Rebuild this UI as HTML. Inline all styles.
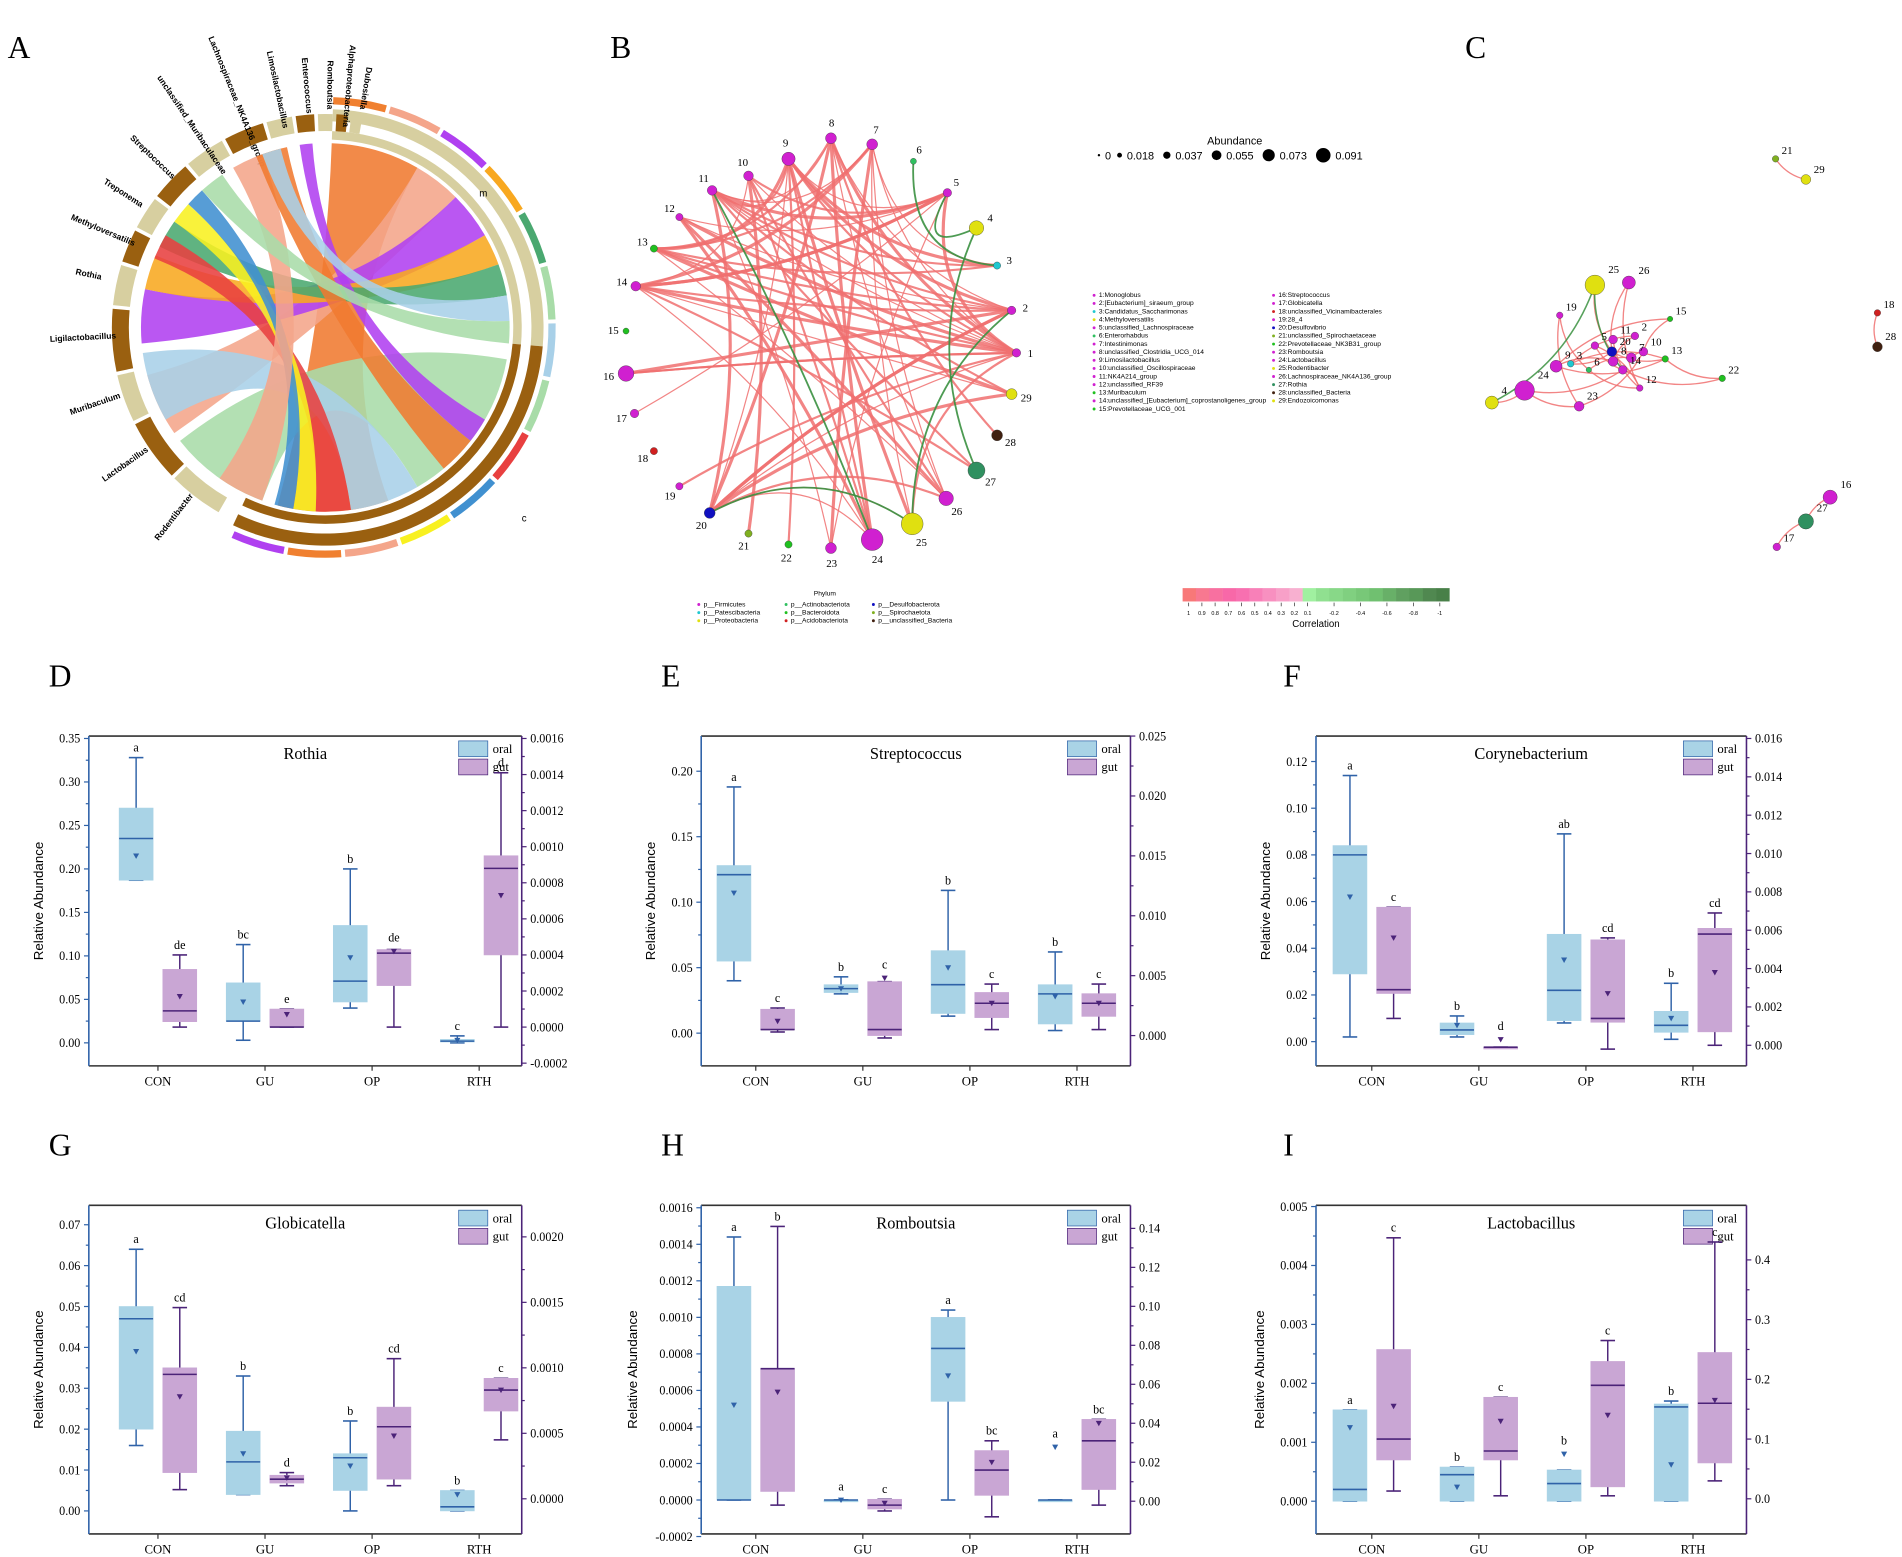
<!DOCTYPE html>
<html><head><meta charset="utf-8">
<style>
html,body{margin:0;padding:0;background:#fff;}
svg{display:block;}
text{font-family:"Liberation Serif",serif;}
.sans{font-family:"Liberation Sans",sans-serif;}
</style></head>
<body>
<svg id="fig" width="1902" height="1557" viewBox="0 0 1568 1284" xmlns="http://www.w3.org/2000/svg">
<rect width="1568" height="1284" fill="#fff"/>
<g id="letters" font-size="26">
<text x="6" y="48">A</text>
<text x="503" y="48">B</text>
<text x="1208" y="48">C</text>
<text x="40" y="566">D</text>
<text x="545" y="566">E</text>
<text x="1058" y="566">F</text>
<text x="40" y="953">G</text>
<text x="545" y="953">H</text>
<text x="1058" y="953">I</text>
</g>
<g id="chordA"></g>
<g id="netB"></g>
<g id="netC"></g>
<g id="boxes"></g>
</svg>
<script>
var NS="http://www.w3.org/2000/svg";
function mk(parent,tag,attrs,txt){var e=document.createElementNS(NS,tag);for(var k in attrs)e.setAttribute(k,attrs[k]);if(txt!==undefined)e.textContent=txt;parent.appendChild(e);return e;}

/* ---------------- Box plot data ---------------- */
var categories=["CON","GU","OP","RTH"];
/* each entry: [min,q1,median,q3,max,mean] */
var rothiaOral=[[0.187,0.187,0.235,0.27,0.328,0.215],[0.003,0.025,0.025,0.069,0.113,0.047],[0.04,0.047,0.071,0.135,0.2,0.098],[0,0.001,0.002,0.004,0.008,0.003]];
var rothiaGut=[[0,0.00003,0.00009,0.00032,0.0004,0.00017],[0,0,0,0.0001,0.0001,0.00007],[0,0.00023,0.00041,0.00043,0.00043,0.00042],[0,0.0004,0.00088,0.00095,0.00141,0.00073]];
var strepOral=[[0.04,0.055,0.121,0.128,0.188,0.107],[0.03,0.031,0.034,0.037,0.043,0.034],[0.013,0.015,0.037,0.063,0.109,0.05],[0.002,0.007,0.03,0.037,0.062,0.028]];
var strepGut=[[0.0003,0.0005,0.0005,0.0022,0.0023,0.0012],[-0.0002,0,0.0005,0.0045,0.0045,0.0048],[0.0005,0.0015,0.0027,0.0036,0.0043,0.0027],[0.0005,0.0016,0.0027,0.0035,0.0043,0.0027]];
var coryOral=[[0.002,0.029,0.08,0.084,0.114,0.062],[0.002,0.003,0.005,0.008,0.011,0.007],[0.008,0.009,0.022,0.046,0.089,0.035],[0.001,0.004,0.007,0.013,0.025,0.01]];
var coryGut=[[0.0014,0.0027,0.0029,0.0072,0.0072,0.0056],[-0.0001,-0.0001,-0.0001,-0.0001,-0.0001,0.0003],[-0.0002,0.0012,0.0014,0.0055,0.0056,0.0027],[0,0.0007,0.0058,0.0061,0.0069,0.0038]];
var globiOral=[[0.016,0.02,0.047,0.05,0.064,0.039],[0.004,0.004,0.012,0.0195,0.033,0.014],[0,0.005,0.013,0.014,0.022,0.011],[0,0,0.001,0.005,0.005,0.004]];
var globiGut=[[0.00007,0.0002,0.00095,0.001,0.00146,0.00078],[0.0001,0.00012,0.00015,0.00018,0.0002,0.00016],[0.0001,0.00015,0.00055,0.0007,0.00107,0.00048],[0.00045,0.00067,0.00083,0.00092,0.00092,0.00083]];
var rombOral=[[0,0,0,0.00117,0.00144,0.00052],[0,0,0,0,0,0],[0,0.00054,0.00083,0.001,0.00104,0.00068],[0,0,0,0,0,0.00029]];
var rombGut=[[-0.002,0.005,0.068,0.068,0.141,0.056],[-0.005,-0.004,-0.002,0.001,0.001,-0.001],[-0.008,0.003,0.016,0.026,0.031,0.02],[-0.002,0.006,0.031,0.042,0.042,0.04]];
var lactoOral=[[0,0,0.0002,0.00155,0.00155,0.00125],[0,0,0.00045,0.00058,0.00058,0.00024],[0,0,0.0003,0.00053,0.00053,0.0008],[0,0,0.0016,0.00165,0.0017,0.00062]];
var lactoGut=[[0.013,0.065,0.1,0.25,0.437,0.155],[0.005,0.065,0.08,0.17,0.17,0.13],[0.005,0.02,0.19,0.23,0.265,0.14],[0.03,0.06,0.16,0.245,0.43,0.165]];
var lettersD=[["a","bc","b","c"],["de","e","de","d"]];
var lettersE=[["a","b","b","b"],["c","c","c","c"]];
var lettersF=[["a","b","ab","b"],["c","d","cd","cd"]];
var lettersG=[["a","b","b","b"],["cd","d","cd","c"]];
var lettersH=[["a","a","a","a"],["b","c","bc","bc"]];
var lettersI=[["a","b","b","b"],["c","c","c","c"]];
var ticksLeftD=[0,0.05,0.1,0.15,0.2,0.25,0.3,0.35], ticksRightD=[-0.0002,0,0.0002,0.0004,0.0006,0.0008,0.001,0.0012,0.0014,0.0016];
var ticksLeftE=[0,0.05,0.1,0.15,0.2], ticksRightE=[0,0.005,0.01,0.015,0.02,0.025];
var ticksLeftF=[0,0.02,0.04,0.06,0.08,0.1,0.12], ticksRightF=[0,0.002,0.004,0.006,0.008,0.01,0.012,0.014,0.016];
var ticksLeftG=[0,0.01,0.02,0.03,0.04,0.05,0.06,0.07], ticksRightG=[0,0.0005,0.001,0.0015,0.002];
var ticksLeftH=[-0.0002,0,0.0002,0.0004,0.0006,0.0008,0.001,0.0012,0.0014,0.0016], ticksRightH=[0,0.02,0.04,0.06,0.08,0.1,0.12,0.14];
var ticksLeftI=[0,0.001,0.002,0.003,0.004,0.005], ticksRightI=[0,0.1,0.2,0.3,0.4];

var panels=[
 {name:"rothia",title:"Rothia",oral:rothiaOral,gut:rothiaGut,let:lettersD,tl:ticksLeftD,tr:ticksRightD,dl:2,dr:4,
  x0:73,x1:430,y0:607,y1:879,cat0:130,L:[0,860,0.35,609],R:[0,847,0.0016,609]},
 {name:"streptococcus",title:"Streptococcus",oral:strepOral,gut:strepGut,let:lettersE,tl:ticksLeftE,tr:ticksRightE,dl:2,dr:3,
  x0:578,x1:932,y0:607,y1:879,cat0:623,L:[0,852,0.2,636],R:[0,854,0.025,607]},
 {name:"corynebacterium",title:"Corynebacterium",oral:coryOral,gut:coryGut,let:lettersF,tl:ticksLeftF,tr:ticksRightF,dl:2,dr:3,
  x0:1085,x1:1440,y0:607,y1:879,cat0:1131,L:[0,859,0.12,628],R:[0,862,0.016,609]},
 {name:"globicatella",title:"Globicatella",oral:globiOral,gut:globiGut,let:lettersG,tl:ticksLeftG,tr:ticksRightG,dl:2,dr:4,
  x0:73,x1:430,y0:994,y1:1265,cat0:130,L:[0,1246,0.07,1010],R:[0,1236,0.002,1020]},
 {name:"romboutsia",title:"Romboutsia",oral:rombOral,gut:rombGut,let:lettersH,tl:ticksLeftH,tr:ticksRightH,dl:4,dr:2,
  x0:578,x1:932,y0:994,y1:1265,cat0:623,L:[0,1237,0.0016,996],R:[0,1238,0.14,1013]},
 {name:"lactobacillus",title:"Lactobacillus",oral:lactoOral,gut:lactoGut,let:lettersI,tl:ticksLeftI,tr:ticksRightI,dl:3,dr:1,
  x0:1085,x1:1440,y0:994,y1:1265,cat0:1131,L:[0,1238,0.005,995],R:[0,1236,0.4,1039]}
];
var OC="#2f62a8",GC="#4b2378",OF="#a9d3e6",GF="#c9a6d4";
var bx=document.getElementById("boxes");
panels.forEach(function(p){
  var g=mk(bx,"g",{});
  
  
  function yl(v){return p.L[1]+(v-p.L[0])*(p.L[3]-p.L[1])/(p.L[2]-p.L[0]);}
  function yr(v){return p.R[1]+(v-p.R[0])*(p.R[3]-p.R[1])/(p.R[2]-p.R[0]);}
  var step=88.3;
  function xc(i){return p.cat0+i*step;}
  var f=mk(g,"line",{x1:p.x0,y1:p.y0,x2:p.x1,y2:p.y0,stroke:"#333","stroke-width":1.3});
  
  var fb=mk(g,"line",{x1:p.x0,y1:p.y1,x2:p.x1,y2:p.y1,stroke:"#333","stroke-width":1.3});
  
  var la=mk(g,"line",{x1:p.x0,y1:p.y0,x2:p.x0,y2:p.y1,stroke:OC,"stroke-width":1.3});
  
  var ra=mk(g,"line",{x1:p.x1,y1:p.y0,x2:p.x1,y2:p.y1,stroke:GC,"stroke-width":1.3});
  
  var maxLen=0;
  p.tl.forEach(function(v){var y=yl(v);mk(g,"line",{x1:p.x0-4,y1:y,x2:p.x0,y2:y,stroke:OC});
    var s=v.toFixed(p.dl);if(s.length>maxLen)maxLen=s.length;
    var t=mk(g,"text",{x:p.x0-7,y:y+3.5,"font-size":10,"text-anchor":"end"},s);
    });
  p.tr.forEach(function(v){var y=yr(v);mk(g,"line",{x1:p.x1,y1:y,x2:p.x1+4,y2:y,stroke:GC});
    var t=mk(g,"text",{x:p.x1+7,y:y+3.5,"font-size":10},v.toFixed(p.dr));
    });
  for(var k=0;k<p.tr.length-1;k++){var ym=(yr(p.tr[k])+yr(p.tr[k+1]))/2;mk(g,"line",{x1:p.x1,y1:ym,x2:p.x1+2.5,y2:ym,stroke:GC});}
  for(var k2=0;k2<p.tl.length-1;k2++){var ym2=(yl(p.tl[k2])+yl(p.tl[k2+1]))/2;mk(g,"line",{x1:p.x0-2.5,y1:ym2,x2:p.x0,y2:ym2,stroke:OC});}
  categories.forEach(function(c,i){var x=xc(i);mk(g,"line",{x1:x,y1:p.y1,x2:x,y2:p.y1+4,stroke:"#333"});
    var t=mk(g,"text",{x:x,y:p.y1+16,"font-size":10.5,"text-anchor":"middle"},c);
    });
  var off=10+maxLen*5+8;
  var yt=mk(g,"text",{x:0,y:0,"font-size":11,"text-anchor":"middle",transform:"translate("+(p.x0-off)+","+((p.y0+p.y1)/2)+") rotate(-90)",class:"sans"},"Relative Abundance");
  
  var tt=mk(g,"text",{x:(p.x0+p.x1)/2,y:p.y0+19,"font-size":13.5,"text-anchor":"middle"},p.title);
  
  var lx=p.x1-52,ly=p.y0+4;
  var l1=mk(g,"rect",{x:lx,y:ly,width:24,height:13,fill:OF,stroke:OC,"stroke-width":0.6});
  
  mk(g,"text",{x:lx+28,y:ly+10,"font-size":10.5},"oral");
  var l2=mk(g,"rect",{x:lx,y:ly+15,width:24,height:13,fill:GF,stroke:GC,"stroke-width":0.6});
  
  mk(g,"text",{x:lx+28,y:ly+25,"font-size":10.5},"gut");
  function drawBox(d,x,ys,fill,col,letter,nm){
    var w=28,bg=mk(g,"g",{});
    
    var ymin=ys(d[0]),yq1=ys(d[1]),ymed=ys(d[2]),yq3=ys(d[3]),ymax=ys(d[4]),ymean=ys(d[5]);
    mk(bg,"line",{x1:x,y1:ymax,x2:x,y2:ymin,stroke:col,"stroke-width":1.2});
    mk(bg,"line",{x1:x-6,y1:ymax,x2:x+6,y2:ymax,stroke:col,"stroke-width":1.3});
    mk(bg,"line",{x1:x-6,y1:ymin,x2:x+6,y2:ymin,stroke:col,"stroke-width":1.3});
    mk(bg,"rect",{x:x-w/2,y:yq3,width:w,height:Math.max(yq1-yq3,1.5),fill:fill,stroke:fill,"stroke-width":0.5});
    mk(bg,"line",{x1:x-w/2,y1:ymed,x2:x+w/2,y2:ymed,stroke:col,"stroke-width":1.3});
    mk(bg,"path",{d:"M"+(x-2.5)+","+(ymean-2)+"L"+(x+2.5)+","+(ymean-2)+"L"+x+","+(ymean+2.5)+"Z",fill:col});
    mk(bg,"text",{x:x,y:Math.min(ymax,ymean-3)-5,"font-size":10,"text-anchor":"middle"},letter);
  }
  categories.forEach(function(c,i){
    drawBox(p.oral[i],xc(i)-18,yl,OF,OC,p.let[0][i],"box-oral-"+c.toLowerCase());
    drawBox(p.gut[i],xc(i)+18,yr,GF,GC,p.let[1][i],"box-gut-"+c.toLowerCase());
  });
});

/* ---------------- Chord diagram A ---------------- */
var chordRibbons=[
 ["#f07a30",2,30,160,195],["#f4a58a",30,45,235,255],["#b040f0",45,60,265,282],["#f8a820",60,70,282,293],
 ["#4aa870",70,80,296,305],["#a8dca8",100,150,200,232],["#a8d0e8",150,172,240,262],["#e84040",172,183,292,300],
 ["#f8f020",183,190,305,312],["#4090d0",190,196,312,318],["#b040f0",120,128,352,356],["#f4a58a",200,215,330,340],
 ["#f07a30",128,140,338,348],["#a8d0e8",80,88,340,346],["#a8dca8",88,95,318,326]];
var chordOuterColors=["#f08030","#f4a58a","#b040f0","#f8a820","#4aa870","#a8dca8","#a8d0e8","#a8dca8","#e84040","#4090d0","#f8f020","#f4a58a","#f08030","#b040f0"];
var ch=document.getElementById("chordA");
var cx=268,cy=270;
function pt(r,a){var t=(a-90)*Math.PI/180;return [cx+r*Math.cos(t),cy+r*Math.sin(t)];}
function arc(r1,r2,a1,a2,fill,nm){var p1=pt(r2,a1),p2=pt(r2,a2),p3=pt(r1,a2),p4=pt(r1,a1),lg=(a2-a1)>180?1:0;
  var e=mk(ch,"path",{d:"M"+p1+"A"+r2+","+r2+" 0 "+lg+" 1 "+p2+"L"+p3+"A"+r1+","+r1+" 0 "+lg+" 0 "+p4+"Z",fill:fill});
  }
arc(170,180,2,95,"#d7cfa0","group-ring-m");arc(170,180,95,205,"#9a6010","group-ring-c");
var sub=(205-2)/chordOuterColors.length;
chordOuterColors.forEach(function(c,i){arc(184,190,2+i*sub,2+(i+1)*sub-1,c,"outer-segment");});
arc(155,162,2,95,"#d7cfa0","inner-ring-m");arc(155,162,95,205,"#9a6010","inner-ring-c");
var taxaNames=["Rodentibacter","Lactobacillus","Muribaculum","Ligilactobacillus","Rothia","Methyloversatilis","Treponema","Streptococcus","unclassified_Muribaculaceae","Lachnospiraceae_NK4A136_group","Limosilactobacillus","Enterococcus","Romboutsia","Alphaproteobacteria","Dubosiella"];
var taxaSpan=[16,18,14,18,12,10,10,12,12,12,8,6,5,4,4];
var a=210;
taxaNames.forEach(function(n,i){var s=taxaSpan[i];arc(162,176,a,a+s-1,i%2?"#9a6010":"#d7cfa0","taxon-ring");
  var mid=a+s/2,p=pt(200,mid);
  var t=mk(ch,"text",{x:p[0],y:p[1],"font-size":7,"font-weight":"bold","text-anchor":"middle",transform:"rotate("+(mid-270)+","+p[0]+","+p[1]+")",class:"sans"},n);
  
  a+=s;});
chordRibbons.forEach(function(r){var R=152,p1=pt(R,r[1]),p2=pt(R,r[2]),p3=pt(R,r[3]),p4=pt(R,r[4]);
  var e=mk(ch,"path",{d:"M"+p1+"A"+R+","+R+" 0 0 1 "+p2+"Q"+cx+","+cy+" "+p3+"A"+R+","+R+" 0 0 1 "+p4+"Q"+cx+","+cy+" "+p1+"Z",fill:r[0],opacity:0.88});
  });
mk(ch,"text",{x:395,y:162,"font-size":8,class:"sans"},"m");
mk(ch,"text",{x:430,y:430,"font-size":8,class:"sans"},"c");

/* ---------------- Network B ---------------- */
var nodeIds=[1,2,3,4,5,6,7,8,9,10,11,12,13,14,15,16,17,18,19,20,21,22,23,24,25,26,27,28,29];
var nodeColors=["#d020d0","#d020d0","#20c8d0","#e0e010","#d020d0","#30c060","#d020d0","#d020d0","#d020d0","#d020d0","#d020d0","#d020d0","#20c020","#d020d0","#20c020","#d020d0","#d020d0","#d02020","#d020d0","#1010c0","#80b020","#20c020","#d020d0","#d020d0","#e0e010","#d020d0","#309060","#402010","#e0e010"];
var nodeSizes=[3.5,3.5,3,6,3.5,2.5,4.5,4.5,5.5,4,4,3,3,4,2.5,6.5,3.5,3,3,4.5,3,3,4.5,9,9,6,7,4.5,4.5];
var nodePos=[[838,291],[834,256],[822,219],[805,188],[781,159],[753,133],[719,119],[685,114],[650,131],[617,145],[587,157],[560,179],[539,205],[524,236],[516,273],[516,308],[523,341],[539,372],[560,401],[585,423],[617,440],[650,449],[685,452],[719,445],[752,432],[780,411],[805,388],[822,359],[834,325]];
var edgesRed=[[1,11],[1,9],[1,8],[1,7],[1,13],[1,14],[1,20],[1,16],[1,5],[1,10],[2,11],[2,9],[2,8],[2,14],[2,20],[2,12],[3,11],[3,9],[3,7],[3,13],[5,11],[5,9],[5,10],[5,14],[7,11],[7,13],[7,14],[8,11],[8,13],[8,20],[8,26],[9,11],[9,13],[9,20],[9,24],[9,25],[10,14],[10,26],[11,20],[11,23],[11,29],[12,1],[12,5],[13,2],[14,5],[14,24],[16,1],[16,2],[17,5],[19,1],[20,2],[20,25],[20,26],[20,29],[20,24],[22,9],[23,7],[23,5],[24,10],[24,8],[25,7],[25,1],[26,12],[26,7],[27,11],[29,13],[29,14],[28,8],[21,10],[13,26],[14,27],[12,24]];
var edgesGreen=[[11,24],[4,27],[2,25],[20,25],[5,4],[6,3]];
var nb=document.getElementById("netB");var ncx=677,ncy=283;
function curve(par,p,q,col,w,op,nm){var mx=(p[0]+q[0])/2,my=(p[1]+q[1])/2;var c=[mx+(ncx-mx)*0.35,my+(ncy-my)*0.35];
  var e=mk(par,"path",{d:"M"+p+"Q"+c+" "+q,fill:"none",stroke:col,"stroke-width":w,opacity:op});
  }
edgesRed.forEach(function(e,i){curve(nb,nodePos[e[0]-1],nodePos[e[1]-1],"#f07070",1+(i%3)*0.8,0.85,"edge-positive");});
edgesGreen.forEach(function(e){curve(nb,nodePos[e[0]-1],nodePos[e[1]-1],"#3a9040",1.5,0.9,"edge-negative");});
nodeIds.forEach(function(id,i){var p=nodePos[i];
  var c=mk(nb,"circle",{cx:p[0],cy:p[1],r:nodeSizes[i],fill:nodeColors[i],stroke:"#333","stroke-width":0.3});
  
  var dx=p[0]-ncx,dy=p[1]-ncy,d=Math.sqrt(dx*dx+dy*dy);
  mk(nb,"text",{x:p[0]+dx/d*(nodeSizes[i]+8),y:p[1]+dy/d*(nodeSizes[i]+8)+3,"font-size":9,"text-anchor":"middle"},id);});
var abundLabels=["0","0.018","0.037","0.055","0.073","0.091"];
var abundR=[1,2,3,4,5,6];
mk(nb,"text",{x:1018,y:119,"font-size":9,"text-anchor":"middle",class:"sans"},"Abundance");
var ax=906;abundLabels.forEach(function(l,i){var c=mk(nb,"circle",{cx:ax,cy:128,r:abundR[i],fill:"#000"});
  
  mk(nb,"text",{x:ax+abundR[i]+4,y:131.5,"font-size":9,class:"sans"},l);ax+=abundR[i]*2+10+l.length*5;});
var taxaList=["1:Monoglobus","2:[Eubacterium]_siraeum_group","3:Candidatus_Saccharimonas","4:Methyloversatilis","5:unclassified_Lachnospiraceae","6:Enterorhabdus","7:Intestinimonas","8:unclassified_Clostridia_UCG_014","9:Limosilactobacillus","10:unclassified_Oscillospiraceae","11:NK4A214_group","12:unclassified_RF39","13:Muribaculum","14:unclassified_[Eubacterium]_coprostanoligenes_group","15:Prevotellaceae_UCG_001","16:Streptococcus","17:Globicatella","18:unclassified_Vicinamibacterales","19:28_4","20:Desulfovibrio","21:unclassified_Spirochaetaceae","22:Prevotellaceae_NK3B31_group","23:Romboutsia","24:Lactobacillus","25:Rodentibacter","26:Lachnospiraceae_NK4A136_group","27:Rothia","28:unclassified_Bacteria","29:Endozoicomonas"];
taxaList.forEach(function(t,i){var col=i<15?0:1,row=i<15?i:i-15;var x=col?1050:902,y=245+row*6.7;
  mk(nb,"circle",{cx:x,cy:y-1.5,r:1.2,fill:nodeColors[i]});
  var e=mk(nb,"text",{x:x+4,y:y,"font-size":5.5,class:"sans"},t);});
var cbColors=["#f87878","#f87890","#f870a0","#f868a8","#f870b0","#f880b8","#f890c0","#f8a0c8","#f8b0d0","#a0f0a0","#90e090","#88d888","#80d080","#78c878","#70c070","#68b068","#60a060","#589858","#508850","#488048"];
cbColors.forEach(function(c,i){var r=mk(nb,"rect",{x:975+i*11,y:485,width:11.2,height:11,fill:c});
  });
var cbLabels=["1","0.9","0.8","0.7","0.6","0.5","0.4","0.3","0.2","0.1","-0.2","-0.4","-0.6","-0.8","-1"];
var cbPos=[0,1,2,3,4,5,6,7,8,9,11,13,15,17,19];
cbLabels.forEach(function(l,i){var x=980+cbPos[i]*10.9;mk(nb,"line",{x1:x,y1:497,x2:x,y2:500,stroke:"#333","stroke-width":0.6});mk(nb,"text",{x:x,y:507,"font-size":4.5,"text-anchor":"middle",class:"sans"},l);});
mk(nb,"text",{x:1085,y:517,"font-size":8,"text-anchor":"middle",class:"sans"},"Correlation");
var phyla=["p__Firmicutes","p__Patescibacteria","p__Proteobacteria","p__Actinobacteriota","p__Bacteroidota","p__Acidobacteriota","p__Desulfobacterota","p__Spirochaetota","p__unclassified_Bacteria"];
var phylaCol=["#d020d0","#20c8d0","#e0e010","#30c060","#20c020","#d02020","#1010c0","#80b020","#402010"];
mk(nb,"text",{x:680,y:491,"font-size":5.5,"text-anchor":"middle",class:"sans"},"Phylum");
phyla.forEach(function(p,i){var x=576+Math.floor(i/3)*72,y=500+(i%3)*6.7;mk(nb,"circle",{cx:x,cy:y-1.5,r:1.2,fill:phylaCol[i]});
  var e=mk(nb,"text",{x:x+4,y:y,"font-size":5.5,class:"sans"},p);});

/* ---------------- Network C ---------------- */
var cNodes=[21,29,18,28,16,27,17,25,26,19,15,2,5,11,20,10,13,7,22,4,24,3,9,6,14,23,12,8];
var cPos=[[1464,131],[1489,148],[1548,258],[1548,286],[1509,410],[1489,430],[1465,451],[1315,235],[1343,233],[1286,260],[1377,263],[1348,277],[1315,285],[1330,280],[1329,290],[1355,290],[1373,296],[1345,295],[1420,312],[1230,332],[1257,322],[1295,300],[1283,302],[1310,305],[1338,305],[1302,335],[1352,320],[1330,298]];
var cEdges=[[21,29],[18,28],[16,27],[27,17],[25,20],[26,20],[19,6],[15,10],[2,8],[5,14],[11,12],[20,13],[10,7],[13,22],[7,6],[4,24],[24,23],[3,20],[9,13],[6,12],[14,22],[23,10],[12,5],[8,9],[24,14],[19,23],[2,3],[15,9],[26,12],[13,3]];
var cGreen=[[4,25],[25,14]];
var nc=document.getElementById("netC");
function cp(id){return cPos[cNodes.indexOf(id)];}
function cc(p,q,col,w,nm){var mx=(p[0]+q[0])/2,my=(p[1]+q[1])/2,dx=q[0]-p[0],dy=q[1]-p[1];var c=[mx-dy*0.2,my+dx*0.2];
  var e=mk(nc,"path",{d:"M"+p+"Q"+c+" "+q,fill:"none",stroke:col,"stroke-width":w,opacity:0.85});}
cEdges.forEach(function(e){cc(cp(e[0]),cp(e[1]),"#f07070",1.1,"edge-positive");});
cGreen.forEach(function(e){cc(cp(e[0]),cp(e[1]),"#3a9040",1.3,"edge-negative");});
cNodes.forEach(function(id,i){var p=cPos[i],k=id-1;
  var c=mk(nc,"circle",{cx:p[0],cy:p[1],r:nodeSizes[k]*0.9,fill:nodeColors[k],stroke:"#333","stroke-width":0.3});
  
  mk(nc,"text",{x:p[0]+nodeSizes[k]+2,y:p[1]-nodeSizes[k]-1,"font-size":9},id);});
</script>
</body></html>
